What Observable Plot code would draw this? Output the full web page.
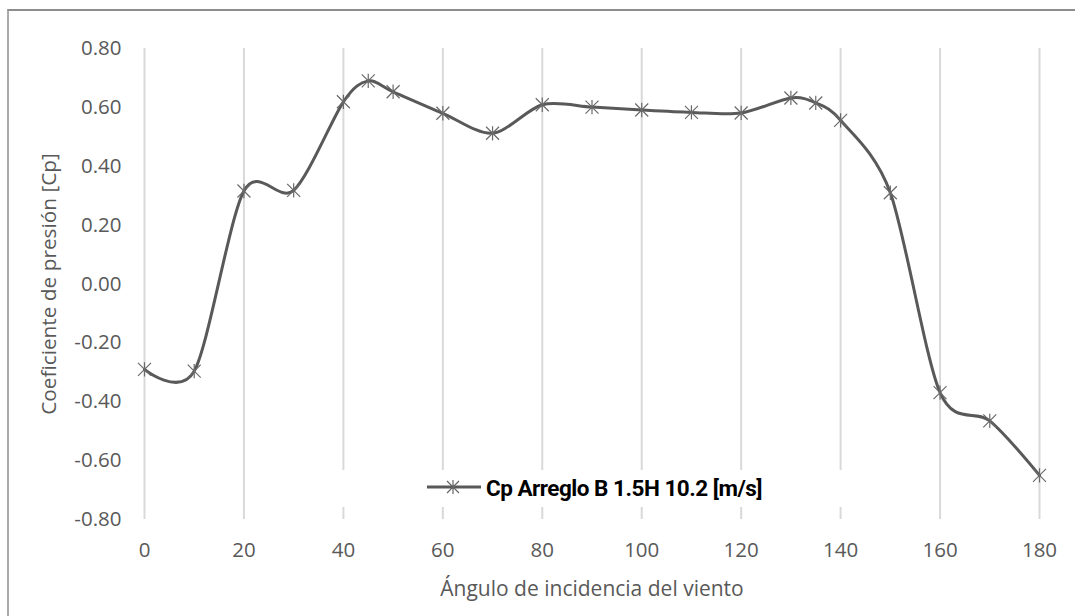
<!DOCTYPE html>
<html>
<head>
<meta charset="utf-8">
<script src="https://cdn.jsdelivr.net/npm/d3@7"></script>
<script src="https://cdn.jsdelivr.net/npm/@observablehq/plot@0.6"></script>
<style>
  html, body { margin: 0; padding: 0; background: #fff; }
  #wrap { position: relative; width: 1075px; height: 616px; overflow: hidden; font-family: "Open Sans", sans-serif; }
  #border { position: absolute; left: 7px; top: 9px; width: 1200px; height: 800px; border-top: 2px solid #8c8c8c; border-left: 2px solid #aaaaaa; box-sizing: border-box; pointer-events: none; }
  #legend { position: absolute; left: 300px; top: 470px; width: 580px; height: 37px; background: #fff; }
  #legend svg { position: absolute; left: 126px; top: 0; }
  #legend span { position: absolute; left: 186px; top: 1px; font-family: Roboto, sans-serif; font-weight: bold; font-size: 22.5px; letter-spacing: -0.5px; color: #000; white-space: nowrap; line-height: 34px; }
</style>
</head>
<body>
<div id="wrap">
  <div id="chart"></div>
  <div id="legend">
    <svg width="56" height="37"><line x1="1" y1="17" x2="55" y2="17" stroke="#595959" stroke-width="3"/><path d="M21,11L33,23M21,23L33,11M27,10L27,24" stroke="#666" stroke-width="1.2" fill="none"/></svg>
    <span id="legtext"></span>
  </div>
  <div id="border"></div>
</div>
<script>
// Data
const angles = [0, 10, 20, 30, 40, 45, 50, 60, 70, 80, 90, 100, 110, 120, 130, 135, 140, 150, 160, 170, 180];
const cp = [-0.29, -0.296, 0.316, 0.318, 0.619, 0.69, 0.653, 0.58, 0.512, 0.609, 0.601, 0.591, 0.583, 0.581, 0.632, 0.615, 0.556, 0.31, -0.369, -0.465, -0.65];
const xTicks = [0, 20, 40, 60, 80, 100, 120, 140, 160, 180];
const yTicks = [-0.8, -0.6, -0.4, -0.2, 0, 0.2, 0.4, 0.6, 0.8];
const yTickLabels = ["-0.80", "-0.60", "-0.40", "-0.20", "0.00", "0.20", "0.40", "0.60", "0.80"];
const seriesName = "Cp Arreglo B 1.5H 10.2 [m/s]";
const xTitle = "Ángulo de incidencia del viento";
const yTitle = "Coeficiente de presión [Cp]";

const data = angles.map((a, i) => ({angle: a, cp: cp[i]}));

const star = {
  draw(ctx, size) {
    const r = Math.sqrt(size / Math.PI);
    ctx.moveTo(-r, -r); ctx.lineTo(r, r);
    ctx.moveTo(-r, r); ctx.lineTo(r, -r);
    ctx.moveTo(0, -r * 1.1); ctx.lineTo(0, r * 1.1);
  }
};

const chart = Plot.plot({
  width: 1075,
  height: 616,
  marginLeft: 144,
  marginRight: 36,
  marginTop: 48,
  marginBottom: 97,
  style: {fontFamily: "'Open Sans', sans-serif", fontSize: "20.5px", color: "#595959", background: "transparent"},
  x: {domain: [0, 180]},
  y: {domain: [-0.8, 0.8]},
  marks: [
    Plot.ruleX(xTicks, {stroke: "#d9d9d9", strokeWidth: 2}),
    Plot.axisX({ticks: xTicks, tickSize: 0, tickPadding: 23, fontSize: 20.5, label: null, color: "#595959"}),
    Plot.axisY({ticks: yTicks, tickFormat: (d) => yTickLabels[yTicks.indexOf(d)], tickSize: 0, tickPadding: 23, fontSize: 20.5, label: null, color: "#595959"}),
    Plot.text([xTitle], {text: (d) => d, frameAnchor: "bottom", dy: 76, fontSize: 21, fill: "#595959"}),
    Plot.text([yTitle], {text: (d) => d, frameAnchor: "left", textAnchor: "middle", dx: -95, rotate: -90, fontSize: 20.8, fill: "#595959"}),
    Plot.line(data, {x: "angle", y: "cp", stroke: "#595959", strokeWidth: 3, curve: "cardinal", tension: 0.12}),
    Plot.dot(data, {x: "angle", y: "cp", symbol: star, r: 6.5, stroke: "#6a6a6a", strokeWidth: 1.2, fill: "none"})
  ]
});
document.getElementById("chart").appendChild(chart);
document.getElementById("legtext").textContent = seriesName;
</script>
</body>
</html>
